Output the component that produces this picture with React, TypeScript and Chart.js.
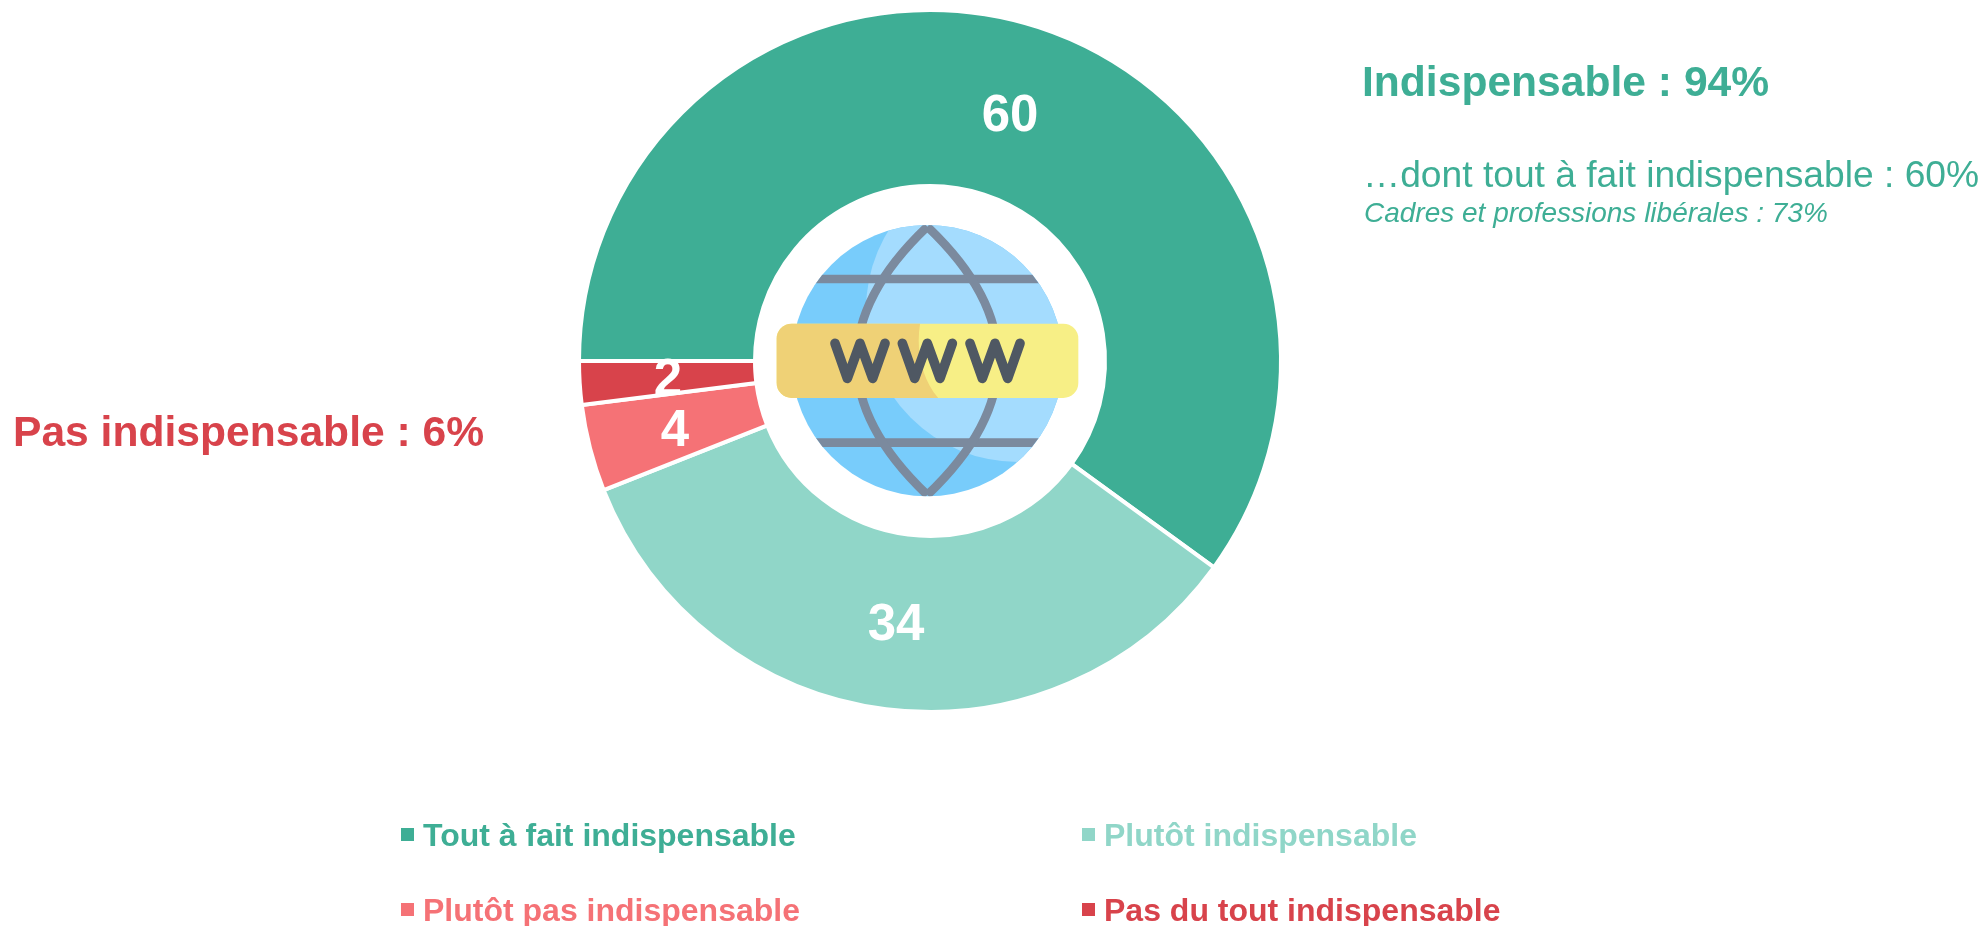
import React, { useEffect, useRef } from "react";
import { Chart, registerables } from "chart.js";

Chart.register(...registerables);

const categories = ["Tout à fait indispensable", "Plutôt indispensable", "Plutôt pas indispensable", "Pas du tout indispensable"];
const values = [60, 34, 4, 2];
const colors = ["#3EAE95", "#90D6C8", "#F57276", "#D8434B"];

const FONT = '"Liberation Sans", Arial, sans-serif';
const labelOffsets = [[80, -244], [-34, 265], [-255, 71], [-262, 20]];
const legendSlots = [[401, 846], [1082, 846], [401, 921], [1082, 921]];
const annotations = [
  { text: "Indispensable : 94%", x: 1362, y: 96, font: `bold 42.6px ${FONT}`, color: colors[0] },
  { text: "…dont tout à fait indispensable : 60%", x: 1363, y: 187, font: `37.2px ${FONT}`, color: colors[0] },
  { text: "Cadres et professions libérales : 73%", x: 1364, y: 222, font: `italic 28px ${FONT}`, color: colors[0] },
  { text: "Pas indispensable : 6%", x: 13, y: 446, font: `bold 42.6px ${FONT}`, color: colors[3] },
];

function drawGlobe(ctx: CanvasRenderingContext2D, cx: number, cy: number) {
  ctx.save();
  ctx.translate(cx - 190, cy - 161);
  ctx.scale(1 / 3, 1 / 3);
  ctx.save();
  ctx.beginPath();
  ctx.arc(562, 482, 407, 0, Math.PI * 2);
  ctx.clip();
  ctx.fillStyle = "#78CCFB";
  ctx.fillRect(100, 50, 950, 900);
  ctx.fillStyle = "#A4DCFE";
  ctx.beginPath();
  ctx.arc(834, 330, 456, 0, Math.PI * 2);
  ctx.fill();
  ctx.strokeStyle = "#7B8A9E";
  ctx.lineWidth = 26;
  for (const y of [237, 728]) {
    ctx.beginPath();
    ctx.moveTo(100, y);
    ctx.lineTo(1050, y);
    ctx.stroke();
  }
  ctx.lineWidth = 26;
  for (const c of [138, 986]) {
    ctx.beginPath();
    ctx.moveTo(562, 80);
    ctx.quadraticCurveTo(c, 482, 562, 885);
    ctx.stroke();
  }
  ctx.restore();

  const banner = () => {
    ctx.beginPath();
    ctx.roundRect(110, 371, 905, 223, 45);
  };
  ctx.fillStyle = "#F7EF86";
  banner();
  ctx.fill();
  ctx.save();
  banner();
  ctx.clip();
  ctx.fillStyle = "#EFD176";
  ctx.beginPath();
  ctx.moveTo(100, 360);
  ctx.lineTo(542, 360);
  ctx.bezierCurveTo(525, 450, 545, 540, 600, 600);
  ctx.lineTo(100, 600);
  ctx.closePath();
  ctx.fill();
  ctx.restore();

  ctx.strokeStyle = "#4F5863";
  ctx.lineWidth = 29;
  ctx.lineCap = "round";
  ctx.lineJoin = "round";
  for (const x of [285, 487, 690]) {
    ctx.beginPath();
    ctx.moveTo(x, 430);
    ctx.lineTo(x + 37, 535);
    ctx.lineTo(x + 75, 430);
    ctx.lineTo(x + 113, 535);
    ctx.lineTo(x + 150, 430);
    ctx.stroke();
  }
  ctx.restore();
}

const decorPlugin = {
  id: "decor",
  afterDraw(chart: any) {
    const { ctx } = chart;
    const arc = chart.getDatasetMeta(0).data[0];
    const cx = arc.x;
    const cy = arc.y;
    drawGlobe(ctx, cx, cy);
    ctx.save();
    ctx.textBaseline = "middle";
    ctx.textAlign = "center";
    ctx.fillStyle = "#FFFFFF";
    ctx.font = `bold 51px ${FONT}`;
    values.forEach((v, i) => {
      ctx.fillText(String(v), cx + labelOffsets[i][0], cy + labelOffsets[i][1]);
    });
    ctx.textBaseline = "alphabetic";
    ctx.textAlign = "left";
    for (const a of annotations) {
      ctx.font = a.font;
      ctx.fillStyle = a.color;
      ctx.fillText(a.text, a.x, a.y);
    }
    ctx.font = `bold 32px ${FONT}`;
    categories.forEach((c, i) => {
      const [x, y] = legendSlots[i];
      ctx.fillStyle = colors[i];
      ctx.fillRect(x, y - 18, 13, 13);
      ctx.fillText(c, x + 22, y);
    });
    ctx.restore();
  },
};

export default function App() {
  const ref = useRef<HTMLCanvasElement>(null);
  useEffect(() => {
    document.body.style.margin = "0";
    const chart = new Chart(ref.current!, {
      type: "doughnut",
      data: {
        labels: categories,
        datasets: [{ data: values, backgroundColor: colors, borderColor: "#FFFFFF", borderWidth: 4 }],
      },
      options: {
        animation: false,
        responsive: false,
        rotation: 270,
        circumference: 360,
        cutout: 175,
        layout: { padding: { left: 0, right: 125, top: 8, bottom: 212 } },
        plugins: { legend: { display: false }, tooltip: { enabled: false } },
      },
      plugins: [decorPlugin],
    });
    return () => chart.destroy();
  }, []);
  return <canvas ref={ref} width={1985} height={926} style={{ display: "block" }} />;
}
